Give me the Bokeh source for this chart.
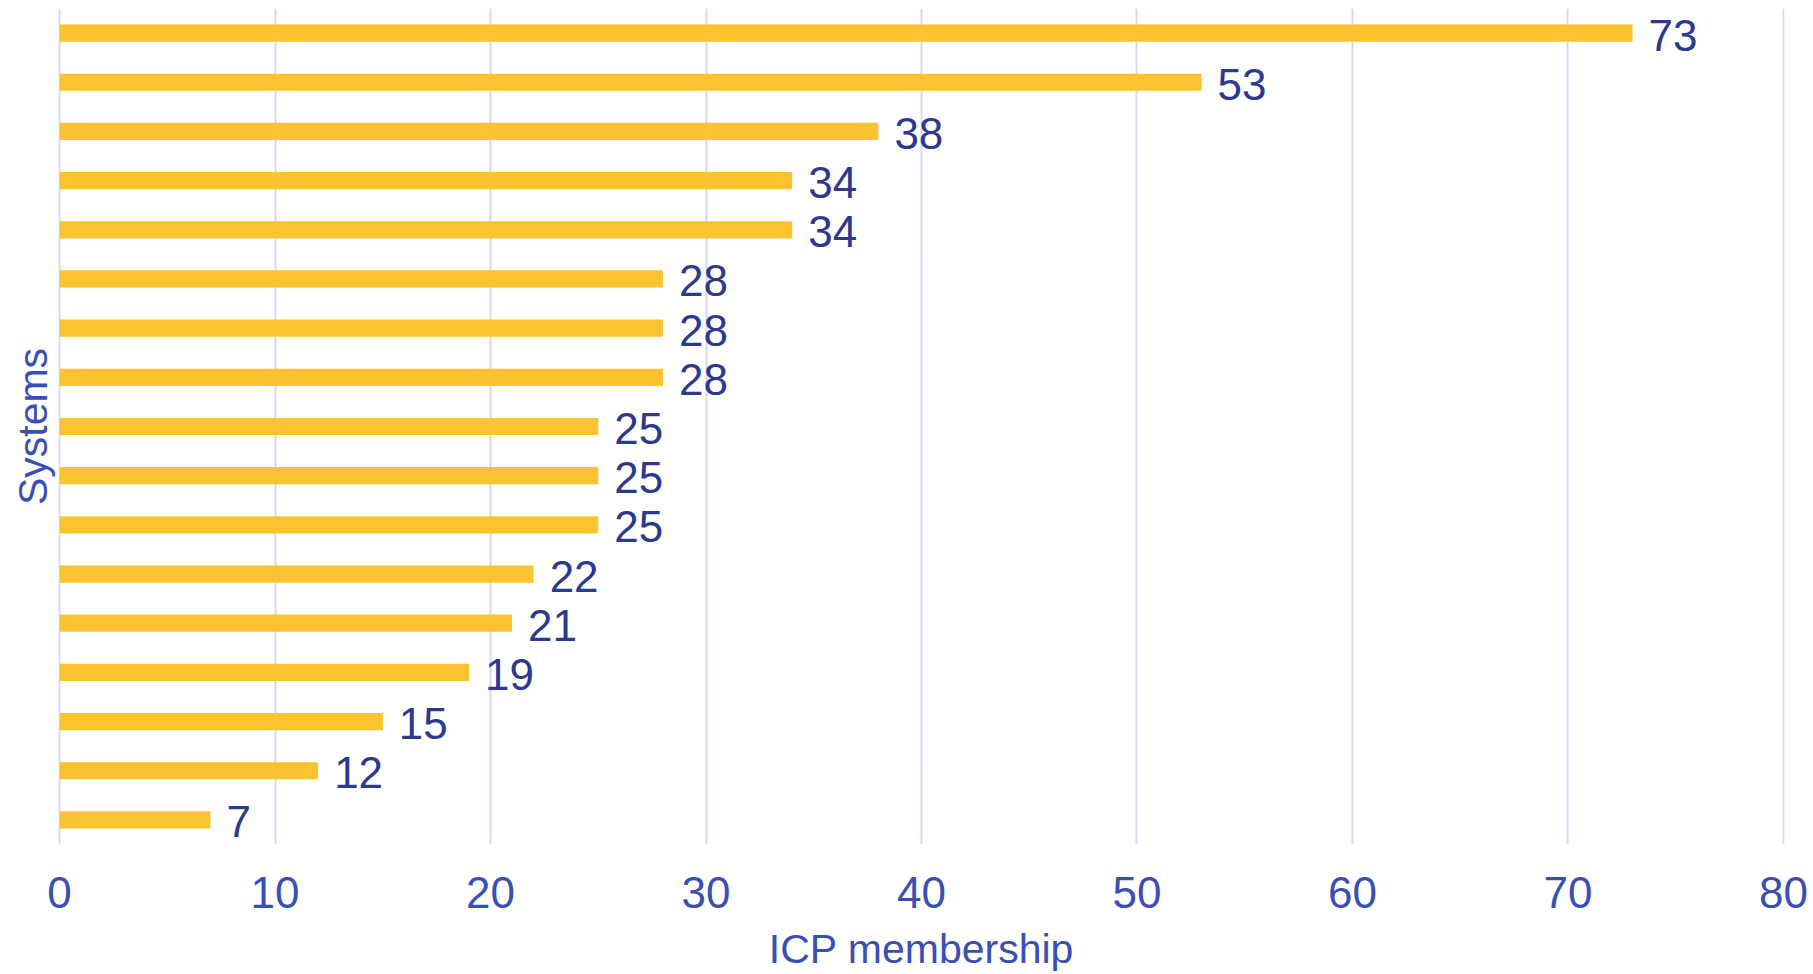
from bokeh.plotting import figure
from bokeh.models import ColumnDataSource, Range1d, FixedTicker
from bokeh.core.properties import value
from bokeh.embed import file_html
from bokeh.resources import INLINE

# Data (top to bottom as shown)
values = [73, 53, 38, 34, 34, 28, 28, 28, 25, 25, 25, 22, 21, 19, 15, 12, 7]
x_ticks = [0, 10, 20, 30, 40, 50, 60, 70, 80]
x_title = "ICP membership"
y_title = "Systems"

n = len(values)
pos = [n - 1 - i for i in range(n)]  # top bar highest
src = ColumnDataSource(dict(y=pos, v=values, lab=[str(v) for v in values]))

FONT = "Liberation Sans"
BAR = "#FBC32D"
NAVY = "#2B3990"
BLUE = "#3A4FB4"
GRID = "#D3DAF2"

p = figure(width=1813, height=974, output_backend="svg", toolbar_location=None,
           x_range=Range1d(-0.05, 80.05), y_range=Range1d(-0.5, n - 0.5),
           min_border_left=58, min_border_right=29, min_border_top=8,
           min_border_bottom=10)
p.outline_line_color = None
p.background_fill_color = "white"

p.hbar(y="y", right="v", left=0, height=0.35, source=src,
       fill_color=BAR, line_color=None)
p.text(x="v", y="y", text="lab", source=src, x_offset=16, y_offset=2,
       text_baseline="middle", text_align="left",
       text_font=value(FONT), text_font_size="44px", text_color=NAVY)

# x axis
xa = p.xaxis[0]
xa.ticker = FixedTicker(ticks=x_ticks)
xa.axis_line_color = None
xa.major_tick_line_color = None
xa.minor_tick_line_color = None
xa.major_tick_out = 0
xa.major_label_standoff = 32
xa.major_label_text_font = FONT
xa.major_label_text_font_size = "44px"
xa.major_label_text_color = BLUE
xa.axis_label = x_title
xa.axis_label_text_font = FONT
xa.axis_label_text_font_size = "41px"
xa.axis_label_text_font_style = "normal"
xa.axis_label_text_color = BLUE
xa.axis_label_standoff = 15

# y axis
ya = p.yaxis[0]
ya.ticker = FixedTicker(ticks=[])
ya.axis_line_color = None
ya.major_tick_line_color = None
ya.minor_tick_line_color = None
ya.axis_label = y_title
ya.axis_label_text_font = FONT
ya.axis_label_text_font_size = "41px"
ya.axis_label_text_font_style = "normal"
ya.axis_label_text_color = BLUE
ya.axis_label_standoff = 3

p.xgrid.grid_line_color = GRID
p.xgrid.grid_line_width = 2
p.ygrid.grid_line_color = None

open("out.html", "w").write(file_html(p, INLINE))
